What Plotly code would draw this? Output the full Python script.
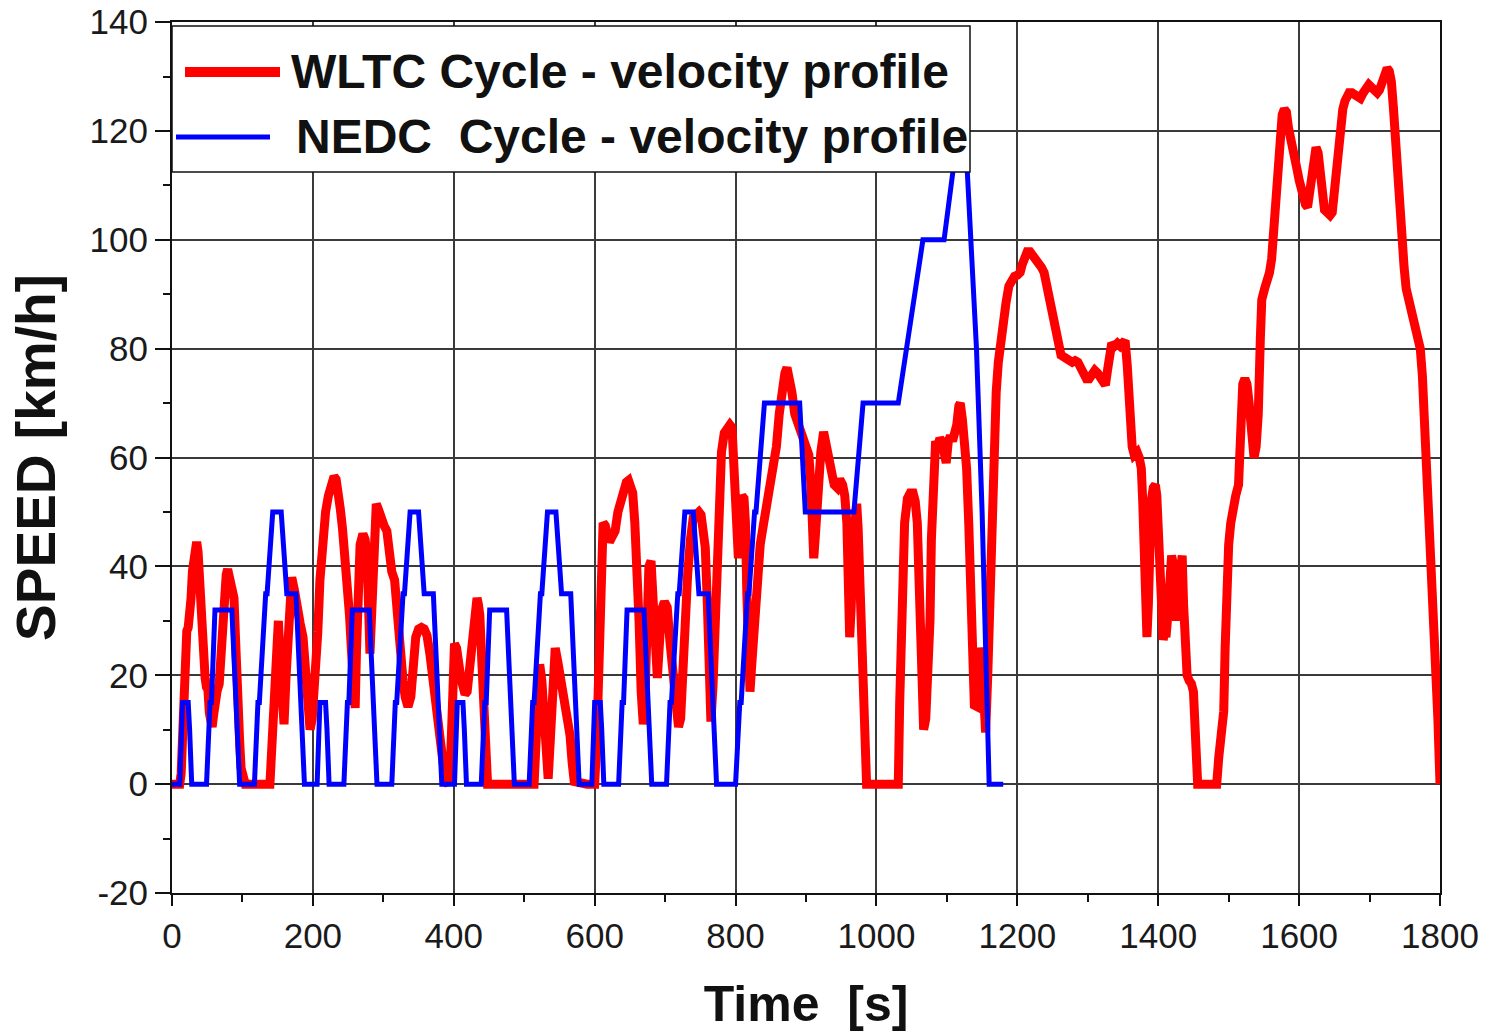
import plotly.graph_objects as go

# ---------------- DATA ----------------
# WLTC class 3 velocity profile, split by phase: time [s] / speed [km/h]
wltc_low_t = [0, 11, 13, 15, 17, 19, 21, 23, 25, 27, 29, 31, 33, 35, 37, 39, 41, 43, 45, 47, 49, 51, 53, 55, 57, 59,
              61, 64, 67, 69, 71, 73, 75, 77, 79, 81, 83, 86, 88, 90, 92, 94, 96, 98, 101, 104,
              139, 142, 145, 148, 151, 154, 157, 159, 162, 166, 170, 174, 178, 182, 186, 189, 192, 196, 199,
              203, 207, 210, 214, 218, 222, 226, 230, 233, 236, 239, 242, 245, 248, 252, 255, 258, 260, 262,
              264, 267, 271, 274, 277, 279, 281, 284, 287, 290, 293, 297, 301, 305, 308, 312, 316, 320, 324,
              328, 331, 335, 339, 342, 346, 350, 354, 358, 362, 366, 369, 373, 377, 380, 384, 388, 392, 395,
              398, 401, 404, 407, 410, 413, 416, 419, 422, 425, 428, 431, 433, 435, 437, 440, 443, 446, 448,
              514, 517, 520, 522, 525, 528, 531, 534, 537, 540, 544, 547, 551, 555, 558, 562, 565, 568, 571, 589]
wltc_low_v = [0, 0, 2, 9.9, 16.9, 26, 28.1, 28.8, 30.8, 34.1, 39.1, 42.5, 43.9, 44.5, 42.7, 37, 32.3, 25.1, 20.9,
              19.5, 17.8, 17.4, 13.1, 11, 10.5, 12.6,
              15.3, 17.1, 18.4, 23.2, 29.8, 34.4, 36.4, 38.5, 39.5, 38.5, 37, 35.3, 34.2, 27.3, 17, 12, 8, 3, 0.5, 0,
              0, 8, 22, 29.5, 30, 22, 12, 11, 20, 32, 38, 35.5, 31, 29.5, 27, 20, 14, 10, 12,
              19, 28, 37.5, 45, 50, 53, 55, 56.5, 56, 54, 50.5, 47, 43, 38.5, 31, 24, 17, 14, 25,
              38, 44, 46, 45, 42, 33, 24, 33, 46, 51.5, 50.5, 48, 47.5, 46.5, 42, 39, 37.5, 30, 25,
              19, 16, 14.2, 16, 23.5, 27, 28.5, 28.8, 28.5, 27.3, 24, 21, 16, 11.5, 7.6, 3, 0.5, 0, 3,
              14, 25.8, 25, 20, 19.5, 18, 16.5, 17, 21, 24, 28, 33, 34.2, 33, 31, 22, 11, 2, 0,
              0, 12, 21.6, 22, 19, 10, 3, 1, 8, 18, 25, 23, 19.5, 18, 16, 12.5, 9, 4, 0.5, 0]

wltc_mid_t = [600, 603, 606, 609, 612, 615, 618, 621, 625, 629, 633, 637, 641, 645, 648, 651, 654, 657, 660, 663,
              666, 669, 671, 674, 677, 680, 683, 686, 689, 692, 695, 699, 703, 707, 711, 715, 719, 722, 725,
              728, 732, 736, 740, 744, 748, 751, 754, 757, 760, 763, 765, 768, 771, 774, 777, 780, 784, 788,
              792, 795, 797, 799, 802, 804, 806, 809, 812, 814, 816, 818, 820.5, 823, 826, 830, 835, 840, 845,
              850, 854, 858, 862, 866, 870, 873, 876, 880, 884, 888, 892, 896, 900, 904, 907, 909, 911, 914,
              917, 921, 925, 928, 932, 936, 940, 944, 948, 952, 955, 958, 960, 962, 964, 967, 970, 972, 974,
              976, 979, 981, 984, 986, 1022]
wltc_mid_v = [0, 8, 25, 40, 48, 47.5, 45, 44.5, 45.5, 46.5, 50, 52.2, 54, 55.5, 55.8, 55, 53.5, 48, 42, 30,
              17, 11, 14, 30, 40, 41, 33, 22, 19.5, 26, 32, 33.5, 32.5, 26, 21, 14, 10.5, 12, 22,
              31, 38.5, 45, 49, 49.5, 50, 49.5, 47.5, 43.5, 33, 18, 11.5, 18, 30, 40, 52, 61, 64.5, 65.5,
              66, 65.5, 58, 50, 43, 41.5, 47, 53, 52.5, 48, 35, 24, 17, 22, 29, 37, 44, 48, 52,
              55, 58, 62, 68, 73, 75.5, 76.5, 75, 72, 68, 66.5, 66, 64.5, 63, 60.5, 55, 45, 41.5, 47,
              55, 61, 64.7, 62.5, 59, 57, 55, 54.5, 56, 55, 53, 48, 38, 27, 32, 44, 50, 51.5, 47,
              38, 26, 16, 6, 0, 0]

wltc_high_t = [1031, 1033, 1036, 1040, 1044, 1048, 1052, 1055, 1058, 1061, 1064, 1067, 1070, 1073, 1076, 1078,
               1081, 1084, 1087, 1090, 1093, 1096, 1099, 1102, 1105, 1108, 1111, 1114, 1117, 1119, 1122, 1125,
               1128, 1131, 1134, 1137, 1139, 1142, 1145, 1147, 1149, 1151, 1153, 1155, 1158, 1161, 1164, 1167,
               1170, 1173, 1176, 1180, 1184, 1188, 1192, 1196, 1200, 1204, 1207, 1210, 1214, 1218, 1222, 1226,
               1230, 1234, 1238, 1242, 1246, 1250, 1254, 1258, 1262, 1266, 1270, 1274, 1278, 1282, 1286, 1290,
               1294, 1298, 1302, 1306, 1310, 1314, 1318, 1322, 1325, 1328, 1331, 1334, 1338, 1342, 1346, 1350,
               1353, 1356, 1358, 1361, 1363, 1366, 1370, 1373, 1376, 1378, 1380, 1382, 1384, 1386, 1388, 1390,
               1393, 1396, 1398, 1401, 1403, 1405, 1407, 1409, 1411, 1413, 1416, 1419, 1422, 1424, 1426, 1428,
               1431, 1434, 1436, 1438, 1441, 1444, 1447, 1450, 1452, 1454, 1456, 1477]
wltc_high_v = [0, 15, 38.5, 48, 52.5, 53.5, 53.5, 52, 48, 37, 20, 10, 12, 20, 30, 45,
               62.5, 63, 62, 63.5, 63, 60, 59, 63, 64, 63, 64.5, 66, 69.5, 70, 67, 64,
               58, 48, 33, 20, 14.5, 14.3, 22, 25, 24, 16, 10.5, 9.5, 20, 35, 52, 65,
               72, 77.5, 81.5, 85, 88.5, 91.5, 93, 93.3, 93.5, 94, 95.5, 97, 97.8, 97.8, 97.2, 96.5,
               95.5, 95, 94, 91.5, 88, 85, 83, 80.5, 78.8, 78.5, 78.2, 78, 77.5, 77.8, 77.5, 76.5,
               75.5, 74.5, 74.5, 75.5, 76, 75.5, 74.5, 73.5, 73.3, 76, 80, 81, 80.5, 81, 80.5, 81.5,
               81.5, 77, 72, 66, 62, 60.5, 61, 60, 58, 52, 42, 33, 27, 33, 45, 52,
               54.5, 55, 53, 42, 33, 27, 26.5, 28, 27, 30, 38, 42, 40, 33, 30, 35,
               42, 42, 33, 21, 20, 19, 18.5, 17, 12, 5, 0, 0]

wltc_xhigh_t = [1483, 1486, 1488, 1491, 1493, 1495, 1497, 1500, 1503, 1506, 1510, 1514, 1516, 1518, 1520, 1523,
                1526, 1529, 1532, 1536, 1539, 1542, 1545, 1547, 1551, 1554, 1558, 1561, 1564, 1567, 1570, 1573,
                1576, 1579, 1582, 1585, 1588, 1591, 1594, 1597, 1600, 1603, 1606, 1609, 1612, 1615, 1618, 1621,
                1624, 1627, 1630, 1633, 1636, 1640, 1644, 1647, 1650, 1653, 1656, 1659, 1662, 1665, 1668, 1671,
                1675, 1679, 1683, 1687, 1691, 1695, 1699, 1703, 1707, 1711, 1714, 1718, 1722, 1725, 1728, 1731,
                1734, 1737, 1740, 1743, 1746, 1749, 1752, 1756, 1760, 1764, 1768, 1772, 1775, 1778, 1781, 1785,
                1788, 1791, 1794, 1797, 1800]
wltc_xhigh_v = [0, 5, 9, 12, 13.4, 25, 38, 44, 48, 51, 53, 55, 62, 70, 73.5, 74.5,
                73.5, 70, 65, 60, 62, 68, 82, 89, 91, 92, 94, 96.5, 102, 108, 114, 120,
                123, 124, 123.5, 120.5, 118, 116.5, 115, 113, 111, 109, 108, 106.5, 106, 109, 114, 116,
                117, 116, 111, 107, 105.5, 105, 104.5, 105, 109, 114, 118, 121, 124, 125.5, 126.5, 127,
                127, 126.5, 126, 126, 127, 128, 128.5, 128, 127.5, 127, 127.5, 129, 130.5, 131.5, 131, 129,
                124, 117, 110, 104, 99, 95, 91, 88.5, 86.5, 85, 83, 80, 75, 67, 60, 50,
                40, 33, 24, 12, 0]

# NEDC: four urban ECE-15 cycles + one EUDC, time [s] / speed [km/h]
nedc_ece_t = [0, 11, 15, 23, 25, 28, 49, 54, 56, 61, 85, 93, 96, 117, 122, 124, 133, 135, 143, 155, 163, 176, 185, 188,
              195, 206, 210, 218, 220, 223, 244, 249, 251, 256, 280, 288, 291, 312, 317, 319, 328, 330, 338, 350, 358, 371, 380, 383,
              390, 401, 405, 413, 415, 418, 439, 444, 446, 451, 475, 483, 486, 507, 512, 514, 523, 525, 533, 545, 553, 566, 575, 578,
              585, 596, 600, 608, 610, 613, 634, 639, 641, 646, 670, 678, 681, 702, 707, 709, 718, 720, 728, 740, 748, 761, 770, 773]
nedc_ece_v = [0, 0, 15, 15, 10, 0, 0, 15, 15, 32, 32, 10, 0, 0, 15, 15, 35, 35, 50, 50, 35, 35, 10, 0,
              0, 0, 15, 15, 10, 0, 0, 15, 15, 32, 32, 10, 0, 0, 15, 15, 35, 35, 50, 50, 35, 35, 10, 0,
              0, 0, 15, 15, 10, 0, 0, 15, 15, 32, 32, 10, 0, 0, 15, 15, 35, 35, 50, 50, 35, 35, 10, 0,
              0, 0, 15, 15, 10, 0, 0, 15, 15, 32, 32, 10, 0, 0, 15, 15, 35, 35, 50, 50, 35, 35, 10, 0]
nedc_eudc_t = [780, 800, 806, 808, 817, 819, 827, 829, 841, 891, 899, 968, 981, 1031, 1066, 1096, 1116, 1126,
               1142, 1150, 1160, 1180]
nedc_eudc_v = [0, 0, 15, 15, 35, 35, 50, 50, 70, 70, 50, 50, 70, 70, 100, 100, 120, 120, 80, 50, 0, 0]

x_ticks = [0, 200, 400, 600, 800, 1000, 1200, 1400, 1600, 1800]
y_ticks = [-20, 0, 20, 40, 60, 80, 100, 120, 140]
y_tick_labels = ["-20", "0", "20", "40", "60", "80", "100", "120", "140"]

legend_labels = ["WLTC Cycle - velocity profile", "NEDC\u00a0 Cycle - velocity profile"]
x_title = "Time\u00a0 [s]"
y_title = "SPEED [km/h]"

# ---------------- FIGURE ----------------
wltc_t = wltc_low_t + wltc_mid_t + wltc_high_t + wltc_xhigh_t
wltc_v = wltc_low_v + wltc_mid_v + wltc_high_v + wltc_xhigh_v
nedc_t = nedc_ece_t + nedc_eudc_t
nedc_v = nedc_ece_v + nedc_eudc_v

RED = "#ff0000"
BLUE = "#0000ff"
FONT = "Liberation Sans, Arial, sans-serif"

fig = go.Figure()
fig.add_trace(go.Scatter(x=wltc_t, y=wltc_v, mode="lines", name=legend_labels[0],
                         line=dict(color=RED, width=9), showlegend=False))
fig.add_trace(go.Scatter(x=nedc_t, y=nedc_v, mode="lines", name=legend_labels[1],
                         line=dict(color=BLUE, width=5), showlegend=False))

W, H = 1488, 1032
L, R, T, B = 172, 48, 22, 139
pw, ph = W - L - R, H - T - B


def px_x(px):
    return (px - L) / pw


def px_y(py):
    return (H - B - py) / ph


axis_common = dict(showgrid=True, gridcolor="#3a3a3a", gridwidth=1.5,
                   showline=True, linecolor="#111", linewidth=2, mirror=True,
                   zeroline=False, ticks="outside", tickcolor="#111", tickwidth=1.5,
                   tickfont=dict(family=FONT, size=35, color="#1a1a1a"))

fig.update_xaxes(range=[0, 1800], tickmode="array", tickvals=x_ticks, ticklen=11,
                 minor=dict(dtick=100, ticks="outside", ticklen=7, tickcolor="#111", showgrid=False),
                 title=dict(text="<b>" + x_title + "</b>", font=dict(family=FONT, size=50, color="#111"),
                            standoff=32),
                 **axis_common)
fig.update_yaxes(range=[-20, 140.02], tickmode="array", tickvals=y_ticks, ticktext=y_tick_labels, ticklen=15,
                 minor=dict(dtick=10, ticks="outside", ticklen=7, tickcolor="#111", showgrid=False),
                 title=dict(text="<b>" + y_title + "</b>", font=dict(family=FONT, size=55, color="#111"),
                            standoff=16),
                 **axis_common)

# legend drawn as an opaque box with line samples and text
box_l, box_r, box_t, box_b = 172, 970, 26, 172
fig.add_shape(type="rect", xref="paper", yref="paper",
              x0=px_x(box_l), x1=px_x(box_r), y0=px_y(box_b), y1=px_y(box_t),
              fillcolor="white", line=dict(color="#111", width=1.5), layer="above")
fig.add_shape(type="line", xref="paper", yref="paper",
              x0=px_x(185), x1=px_x(280), y0=px_y(72), y1=px_y(72),
              line=dict(color=RED, width=10), layer="above")
fig.add_shape(type="line", xref="paper", yref="paper",
              x0=px_x(176), x1=px_x(270), y0=px_y(137), y1=px_y(137),
              line=dict(color=BLUE, width=5), layer="above")
fig.add_annotation(xref="paper", yref="paper", x=px_x(289), y=px_y(71), xanchor="left", yanchor="middle",
                   text="<b>" + legend_labels[0] + "</b>", showarrow=False,
                   font=dict(family=FONT, size=48, color="#111"))
fig.add_annotation(xref="paper", yref="paper", x=px_x(294), y=px_y(136), xanchor="left", yanchor="middle",
                   text="<b>" + legend_labels[1] + "</b>", showarrow=False,
                   font=dict(family=FONT, size=48, color="#111"))

fig.update_layout(width=W, height=H, margin=dict(l=L, r=R, t=T, b=B, autoexpand=False),
                  plot_bgcolor="white", paper_bgcolor="white", showlegend=False)

fig.write_html("out.html")
